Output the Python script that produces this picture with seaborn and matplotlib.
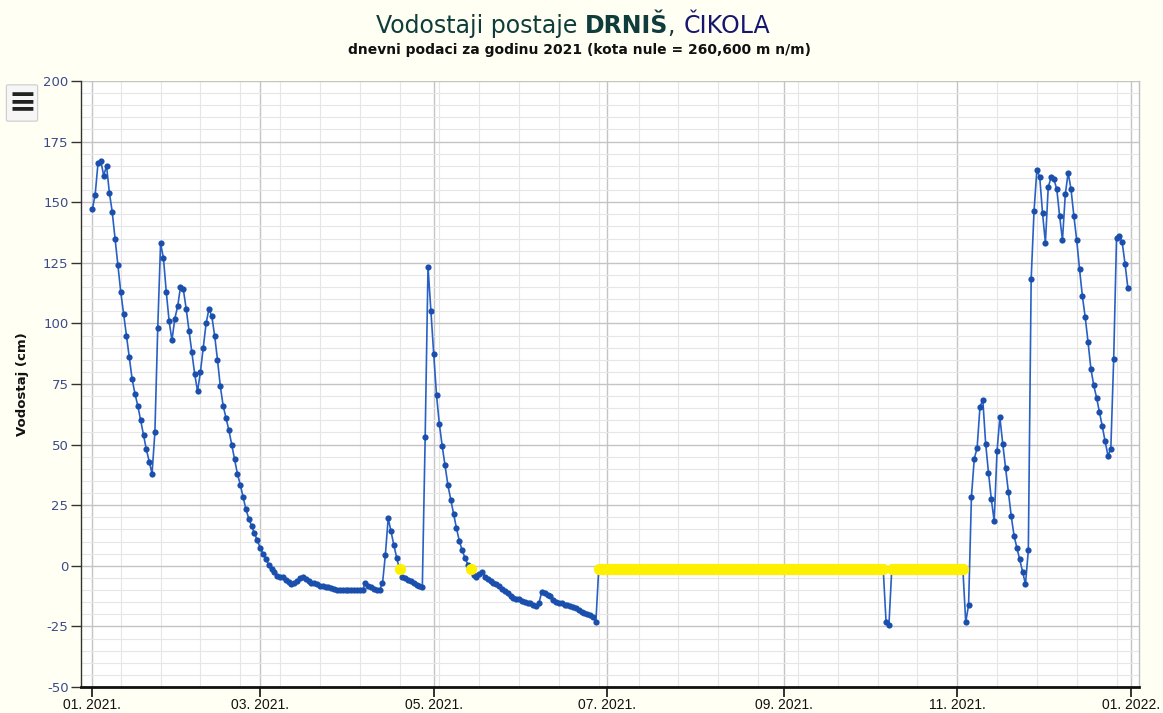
import numpy as np
import pandas as pd
import matplotlib
matplotlib.use("Agg")
import matplotlib.pyplot as plt
import matplotlib.dates as mdates
from matplotlib.ticker import MultipleLocator, FixedLocator
import seaborn as sns

# ---------------- data (daily water level, cm) ----------------
year_start = "2021-01-01"

# days 0..177 (1 Jan - 27 Jun)
levels_jan_jun = [
    147, 153, 166, 167, 161, 165, 154, 146, 135, 124,
    113, 104, 95, 86, 77, 71, 66, 60, 54, 48,
    43, 38, 55, 98, 133, 127, 113, 101, 93, 102,
    107, 115, 114, 106, 97, 88, 79, 72, 80, 90,
    100, 106, 103, 95, 85, 74, 66, 61, 56, 50,
    44, 38,
    33.5, 28.4, 23.3, 19.5, 16.4, 13.4, 10.5, 7.4,
    5.0, 3.0, 0.3, -1.5, -2.5, -4.4, -4.6, -4.8, -5.7, -6.6,
    -7.6, -7.0, -6.2, -5.2, -4.6, -5.4, -6.2, -7.0, -7.3, -7.7,
    -8.3, -8.4, -8.7, -8.7, -9.2, -9.7, -9.8, -9.8, -9.8, -9.8,
    -9.8, -9.8, -9.8, -9.8, -9.8, -9.8, -7.3, -8.2, -8.7, -9.4,
    -9.8, -9.8, -7.3, 4.4, 19.6, 14.2, 8.5, 3.3, -1.5, -4.6,
    -5.0, -5.8, -6.3, -7.3, -7.9, -8.4, -8.7,
    53.1, 123.4, 105.3,
    87.4, 70.3, 58.3, 49.3, 41.4, 33.2, 27.3, 21.3, 15.5, 10.3,
    6.4, 3.3, 0.5, -1.5, -4.0, -4.5, -3.5, -2.5, -4.5, -5.6,
    -6.3, -7.0, -7.5, -8.5, -9.5, -10.3, -11.4, -12.4, -13.2, -13.7,
    -13.9, -14.6, -15.0, -15.5, -15.5, -16.0, -16.6, -15.3, -10.7, -11.4,
    -12.0, -12.6, -14.2, -14.9, -15.2, -15.5, -16.0, -16.3, -16.6, -17.0,
    -17.6, -18.3, -19.0, -19.4, -19.8, -20.5, -21.0, -23.1,
]

# days 178..306: flagged (yellow) level, with two real readings in October
summer_flag_level = -1.5
summer_first_day, summer_last_day = 178, 306
october_dip_days = [279, 280]
october_dip_cm = [-23.2, -24.5]

# days 307..364 (4 Nov - 31 Dec)
levels_nov_dec = [
    -23.3, -16.2, 28.4, 44.2, 48.6, 65.5, 68.5, 50.4, 38.4, 27.4,
    18.4, 47.3, 61.3, 50.4, 40.3, 30.4, 20.4, 12.3, 7.4, 2.6,
    -2.5, -7.6, 6.4, 118.3, 146.2, 163.3, 160.5, 145.4, 133.2, 156.3,
    160.2, 159.4, 155.4, 144.3, 134.4, 153.3, 162.2, 155.4, 144.4, 134.4,
    122.4, 111.2, 102.5, 92.2, 81.2, 74.4, 69.3, 63.4, 57.5, 51.3,
    45.4, 48.3, 85.4, 135.2, 136.2, 133.4, 124.5, 114.5,
]

# individually flagged days in spring
spring_flag_days = [108, 133]

x_tick_labels = ["01. 2021.", "03. 2021.", "05. 2021.", "07. 2021.",
                 "09. 2021.", "11. 2021.", "01. 2022."]
y_ticks = [-50, -25, 0, 25, 50, 75, 100, 125, 150, 175, 200]

title_parts = ["Vodostaji postaje ", "DRNIŠ", ", ", "ČIKOLA"]
subtitle = "dnevni podaci za godinu 2021 (kota nule = 260,600 m n/m)"
y_label = "Vodostaj (cm)"

# ---------------- build table ----------------
summer_days = list(range(summer_first_day, summer_last_day + 1))
summer_vals = []
summer_flags = []
for d in summer_days:
    if d in october_dip_days:
        summer_vals.append(october_dip_cm[october_dip_days.index(d)])
        summer_flags.append(False)
    else:
        summer_vals.append(summer_flag_level)
        summer_flags.append(True)

levels = list(levels_jan_jun) + summer_vals + list(levels_nov_dec)
flags = [d in spring_flag_days for d in range(len(levels_jan_jun))] + summer_flags + [False] * len(levels_nov_dec)
dates = pd.date_range(year_start, periods=len(levels), freq="D")
df = pd.DataFrame({"date": dates, "level": levels, "flag": flags})

# ---------------- style ----------------
sns.set_style("white")
plt.rcParams["font.family"] = ["DejaVu Sans"]

BG = "#fffff3"
LINE = "#2860c4"
DOT = "#1b4fae"
YEL = "#fff000"

fig = plt.figure(figsize=(11.63, 7.13), dpi=100, facecolor=BG)
W, H = 1163, 713
L, R, T, B = 81, 1139, 81, 687
ax = fig.add_axes([L / W, 1 - B / H, (R - L) / W, (B - T) / H])
ax.set_facecolor("white")

sns.lineplot(data=df, x="date", y="level", ax=ax, color=LINE, lw=1.2,
             zorder=3, sort=True, estimator=None)
sns.scatterplot(data=df[~df["flag"]], x="date", y="level", ax=ax, color=DOT,
                s=20, linewidth=0, zorder=4)
sns.scatterplot(data=df[df["flag"]], x="date", y="level", ax=ax, color=YEL,
                s=66, linewidth=0, zorder=5)

t0 = pd.Timestamp(year_start)
ax.set_xlim(t0 + pd.Timedelta(days=-3.97), t0 + pd.Timedelta(days=367.9))
ax.set_ylim(-50, 200)

# ticks
tick_dates = pd.date_range("2021-01-01", "2022-01-01", freq="2MS")
ax.xaxis.set_major_locator(FixedLocator(mdates.date2num(tick_dates)))
ax.set_xticklabels(x_tick_labels, fontsize=10, family=["Liberation Sans", "DejaVu Sans"], color="#111111")
minor_dates = pd.date_range("2021-01-11", "2022-01-10", freq="14D")
ax.xaxis.set_minor_locator(FixedLocator(mdates.date2num(minor_dates)))

ax.set_yticks(y_ticks)
ax.set_yticklabels([str(v) for v in y_ticks], fontsize=9.5, color="#3b4a8c")
ax.yaxis.set_minor_locator(MultipleLocator(5))

ax.grid(which="major", axis="both", color="#c4c4c4", lw=1.0)
ax.grid(which="minor", axis="both", color="#e6e6e6", lw=0.8)
ax.set_axisbelow(True)

ax.tick_params(which="minor", length=0)
ax.tick_params(axis="y", which="major", length=7, width=1, color="#333333", pad=2, left=True)
ax.tick_params(axis="x", which="major", length=7, width=1.2, color="#111111", pad=1, bottom=True)

ax.spines["top"].set_visible(False)
ax.spines["right"].set_color("#c0c0c0")
ax.spines["right"].set_linewidth(1)
ax.spines["left"].set_color("#333333")
ax.spines["left"].set_linewidth(1)
ax.spines["bottom"].set_color("#111111")
ax.spines["bottom"].set_linewidth(2)

ax.set_xlabel("")
ax.set_ylabel(y_label, fontsize=9.5, fontweight="bold", color="#111111", labelpad=10)

# title with mixed styles
fig.canvas.draw()
renderer = fig.canvas.get_renderer()
styles = [
    dict(color="#0f3d3b", fontweight="normal"),
    dict(color="#0f3d3b", fontweight="bold"),
    dict(color="#0f3d3b", fontweight="normal"),
    dict(color="#16166e", fontweight="normal"),
]
pieces = []
for txt, st in zip(title_parts, styles):
    t = fig.text(0, 1 - 33 / H, txt, fontsize=17, ha="left", va="baseline", **st)
    pieces.append(t)
widths = [p.get_window_extent(renderer).width for p in pieces]
total = sum(widths)
x = 573 - total / 2
for p, w in zip(pieces, widths):
    p.set_x(x / W)
    x += w

fig.text(580 / W, 1 - 50 / H, subtitle, fontsize=10, fontweight="bold",
         color="#111111", ha="center", va="center")

# menu button
fig.text(22 / W, 1 - 103 / H, "≡", fontsize=24, fontweight="bold", color="#222222",
         ha="center", va="center",
         bbox=dict(boxstyle="round,pad=0.05", fc="#f6f6f6", ec="#cccccc", lw=0.8))

fig.savefig("out.png", dpi=100, facecolor=BG)
